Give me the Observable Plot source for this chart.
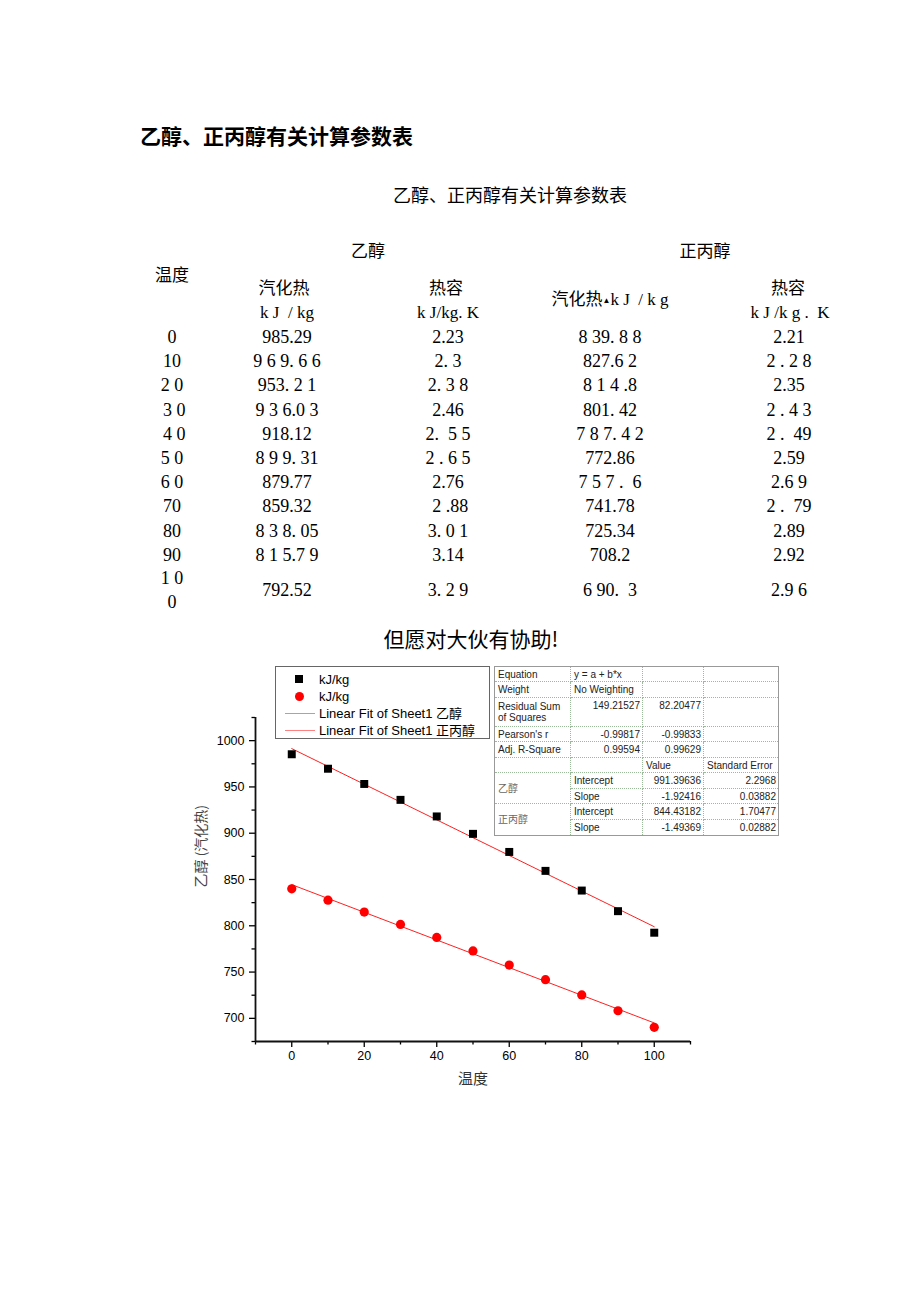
<!DOCTYPE html>
<html>
<head>
<meta charset="utf-8">
<script src="https://cdn.jsdelivr.net/npm/d3@7"></script>
<script src="https://cdn.jsdelivr.net/npm/@observablehq/plot@0.6"></script>
<style>
  html, body { margin: 0; padding: 0; background: #fff; }
  body { width: 920px; height: 1302px; position: relative; overflow: hidden; font-family: "Noto Sans CJK SC", sans-serif; color: #000; }
  .abs { position: absolute; white-space: pre; }
  .cell { position: absolute; text-align: center; font-family: "Liberation Serif", "Noto Sans CJK SC", serif; font-size: 18px; white-space: pre; }
  .hdr { position: absolute; text-align: center; font-family: "Liberation Serif", "Noto Sans CJK SC", serif; font-size: 17px; white-space: pre; }
  #legend { position: absolute; left: 275px; top: 666px; width: 213px; height: 71px; border: 1px solid #666; background: #fff; font-family: "Liberation Sans", Arial, "Noto Sans CJK SC", sans-serif; font-size: 13px; }
  #legend .e { position: absolute; left: 43px; height: 17px; line-height: 17px; white-space: pre; }
  #fit { position: absolute; left: 494px; top: 666px; border-collapse: collapse; border: 1px solid #999; font-family: "Liberation Sans", Arial, "Noto Sans CJK SC", sans-serif; font-size: 10px; color: #222; background: #fff; table-layout: fixed; }
  #fit td { border: 1px dotted #9b9; padding: 0 2px 0 3px; line-height: 11px; vertical-align: middle; overflow: hidden; white-space: nowrap; }
  #fit td.r { text-align: right; }
  #fit td.t { vertical-align: top; padding-top: 2px; }
  #fit td.g { color: #666; }
  #chart { position: absolute; left: 0; top: 660px; }
</style>
</head>
<body>
<script>
// ---- data (as printed in the document) ----
const temps = [0, 10, 20, 30, 40, 50, 60, 70, 80, 90, 100];
const tempLabels = ["0", "10", "2 0", " 3 0", " 4 0", "5 0", "6 0", "70", "80", "90", "1 0\n0"];
const ethanolVapText = ["985.29", "9 6 9. 6 6", "953. 2 1", "9 3 6.0 3", "918.12", "8 9 9. 31", "879.77", "859.32", "8 3 8. 05", "8 1 5.7 9", "792.52"];
const ethanolCpText = ["2.23", "2. 3", "2. 3 8", "2.46", "2.  5 5", "2 . 6 5", "2.76", " 2 .88", "3. 0 1", "3.14", "3. 2 9"];
const propanolVapText = ["8 39. 8 8", "827.6 2", "8 1 4 .8", "801. 42", "7 8 7. 4 2", "772.86", "7 5 7 .  6", "741.78", "725.34", "708.2", "6 90.  3"];
const propanolCpText = ["2.21", "2 . 2 8", "2.35", "2 . 4 3", "2 .  49", "2.59", "2.6 9", "2 .  79", "2.89", "2.92", "2.9 6"];
const num = s => parseFloat(s.replace(/\s/g, ""));
const ethanolVap = ethanolVapText.map(num);
const propanolVap = propanolVapText.map(num);

const seriesNames = ["乙醇", "正丙醇"];
const xMajorTicks = [0, 20, 40, 60, 80, 100];
const xMinorTicks = [-10, 10, 30, 50, 70, 90, 110];
const yMajorTicks = [700, 750, 800, 850, 900, 950, 1000];
const yMinorTicks = [675, 725, 775, 825, 875, 925, 975, 1025];

const legendLabels = ["kJ/kg", "kJ/kg", "Linear Fit of Sheet1 乙醇", "Linear Fit of Sheet1 正丙醇"];
const fitRows = [
  ["Equation", "y = a + b*x", "", ""],
  ["Weight", "No Weighting", "", ""],
  ["Residual Sum\nof Squares", "149.21527", "82.20477", ""],
  ["Pearson's r", "-0.99817", "-0.99833", ""],
  ["Adj. R-Square", "0.99594", "0.99629", ""],
  ["", "", "Value", "Standard Error"],
  ["乙醇", "Intercept", "991.39636", "2.2968"],
  ["", "Slope", "-1.92416", "0.03882"],
  ["正丙醇", "Intercept", "844.43182", "1.70477"],
  ["", "Slope", "-1.49369", "0.02882"]
];

// ---- page text ----
function addText(txt, cls, left, top, width, height, extra) {
  const d = document.createElement("div");
  d.className = cls;
  d.textContent = txt;
  Object.assign(d.style, { left: left + "px", top: top + "px", width: width + "px", height: height + "px", lineHeight: height + "px" }, extra || {});
  document.body.appendChild(d);
  return d;
}
addText("乙醇、正丙醇有关计算参数表", "abs", 140, 121, 400, 28, { fontSize: "21px", fontWeight: "bold" });
addText("乙醇、正丙醇有关计算参数表", "abs", 310, 180, 400, 28, { fontSize: "18px", textAlign: "center" });

addText("乙醇", "hdr", 308, 240, 120, 24);
addText("正丙醇", "hdr", 645, 240, 120, 24);
addText("温度", "hdr", 112, 264, 120, 24);
addText("汽化热", "hdr", 224, 277, 120, 24);
addText("k J  / kg", "hdr", 227, 301, 120, 24);
addText("热容", "hdr", 386, 277, 120, 24);
addText("k J/kg. K", "hdr", 388, 301, 120, 24);
const ph = addText("", "hdr", 520, 288, 180, 24);
ph.innerHTML = '汽化热<span style="font-size:8px;vertical-align:2px">▲</span>k J  / k g';
addText("热容", "hdr", 728, 277, 120, 24);
addText("k J /k g .  K", "hdr", 730, 301, 120, 24);

const colCenters = [172, 287, 448, 610, 789];
temps.forEach((t, i) => {
  const last = i === temps.length - 1;
  const top = last ? 566 : 325 + i * 24.2;
  const h = last ? 48 : 24;
  const cols = [tempLabels[i], ethanolVapText[i], ethanolCpText[i], propanolVapText[i], propanolCpText[i]];
  cols.forEach((txt, j) => {
    const d = addText(txt, "cell", colCenters[j] - 70, top, 140, h);
    if (last && j === 0) { d.style.lineHeight = "24px"; d.style.whiteSpace = "pre-line"; }
  });
});

addText("但愿对大伙有协助!", "abs", 271, 623, 400, 30, { fontSize: "21px", textAlign: "center" });

// ---- chart ----
const rows = [];
temps.forEach((t, i) => {
  rows.push({ t, v: ethanolVap[i], s: seriesNames[0] });
  rows.push({ t, v: propanolVap[i], s: seriesNames[1] });
});

const chart = Plot.plot({
  width: 920,
  height: 440,
  marginLeft: 255,
  marginRight: 230,
  marginTop: 57,
  marginBottom: 59,
  x: { domain: [-10, 110], label: null },
  y: { domain: [675, 1025], label: null },
  style: { fontFamily: "'Liberation Sans', Arial, sans-serif", fontSize: "12.5px", color: "black", background: "transparent", overflow: "visible" },
  marks: [
    Plot.axisX(xMajorTicks, { anchor: "bottom", tickSize: 6, tickPadding: 4, strokeWidth: 1.3, tickFormat: d => String(d), label: null }),
    Plot.axisX(xMinorTicks, { anchor: "bottom", tickSize: 3.5, strokeWidth: 1.3, tickFormat: () => "", label: null }),
    Plot.axisY(yMajorTicks, { anchor: "left", tickSize: 6, tickPadding: 5, strokeWidth: 1.3, tickFormat: d => String(d), label: null }),
    Plot.axisY(yMinorTicks, { anchor: "left", tickSize: 3.5, strokeWidth: 1.3, tickFormat: () => "", label: null }),
    Plot.ruleY([675], { stroke: "#111", strokeWidth: 1.8 }),
    Plot.ruleX([-10], { stroke: "#111", strokeWidth: 1.8 }),
    Plot.linearRegressionY(rows, { x: "t", y: "v", z: "s", stroke: "#ff2020", strokeWidth: 1, ci: 0 }),
    Plot.dot(rows.filter(d => d.s === seriesNames[0]), { x: "t", y: "v", symbol: "square", r: 4.5, fill: "black", stroke: "none" }),
    Plot.dot(rows.filter(d => d.s === seriesNames[1]), { x: "t", y: "v", symbol: "circle", r: 4.6, fill: "#ff0000", stroke: "none" }),
    Plot.text(["温度"], { frameAnchor: "bottom", dy: 42, fontSize: 15, fill: "#333", fontFamily: "'Noto Sans CJK SC', sans-serif" }),
    Plot.text(["乙醇 (汽化热)"], { frameAnchor: "left", dx: -54, dy: 8, rotate: -90, fontSize: 14, fill: "#444", fontFamily: "'Noto Sans CJK SC', sans-serif" })
  ]
});
chart.id = "chart";
document.body.appendChild(chart);

// ---- legend ----
const legend = document.createElement("div");
legend.id = "legend";
const ly = [12, 29, 46, 63];
legendLabels.forEach((lab, i) => {
  const e = document.createElement("div");
  e.className = "e";
  e.style.top = (ly[i] - 8.5) + "px";
  e.textContent = lab;
  legend.appendChild(e);
  const m = document.createElement("div");
  m.style.position = "absolute";
  if (i === 0) Object.assign(m.style, { left: "19px", top: (ly[i] - 4) + "px", width: "8px", height: "8px", background: "#000" });
  else if (i === 1) Object.assign(m.style, { left: "18.5px", top: (ly[i] - 4.5) + "px", width: "9px", height: "9px", background: "#f00", borderRadius: "50%" });
  else Object.assign(m.style, { left: "9px", top: (ly[i]) + "px", width: "30px", height: "1px", background: "#ff8080" });
  legend.appendChild(m);
});
document.body.appendChild(legend);

// ---- fit table ----
const colW = [76, 72, 61, 75];
const rowH = [15, 16, 29, 15, 16, 15, 16, 15, 16, 16];
const tbl = document.createElement("table");
tbl.id = "fit";
const cg = document.createElement("colgroup");
colW.forEach(w => { const c = document.createElement("col"); c.style.width = w + "px"; cg.appendChild(c); });
tbl.appendChild(cg);
fitRows.forEach((r, i) => {
  const tr = document.createElement("tr");
  tr.style.height = rowH[i] + "px";
  r.forEach((txt, j) => {
    if (i >= 6 && j === 0 && (i === 7 || i === 9)) return;
    const td = document.createElement("td");
    td.textContent = txt;
    if (i === 2 && j === 0) { td.style.whiteSpace = "pre"; }
    if (i >= 6 && j === 0) { td.rowSpan = 2; td.className = "g"; }
    const isNum = /^-?\d/.test(txt);
    if (isNum && j > 0) td.classList.add("r");
    if (i === 2 && j > 0) td.classList.add("t");
    tr.appendChild(td);
  });
  tbl.appendChild(tr);
});
document.body.appendChild(tbl);
</script>
</body>
</html>
